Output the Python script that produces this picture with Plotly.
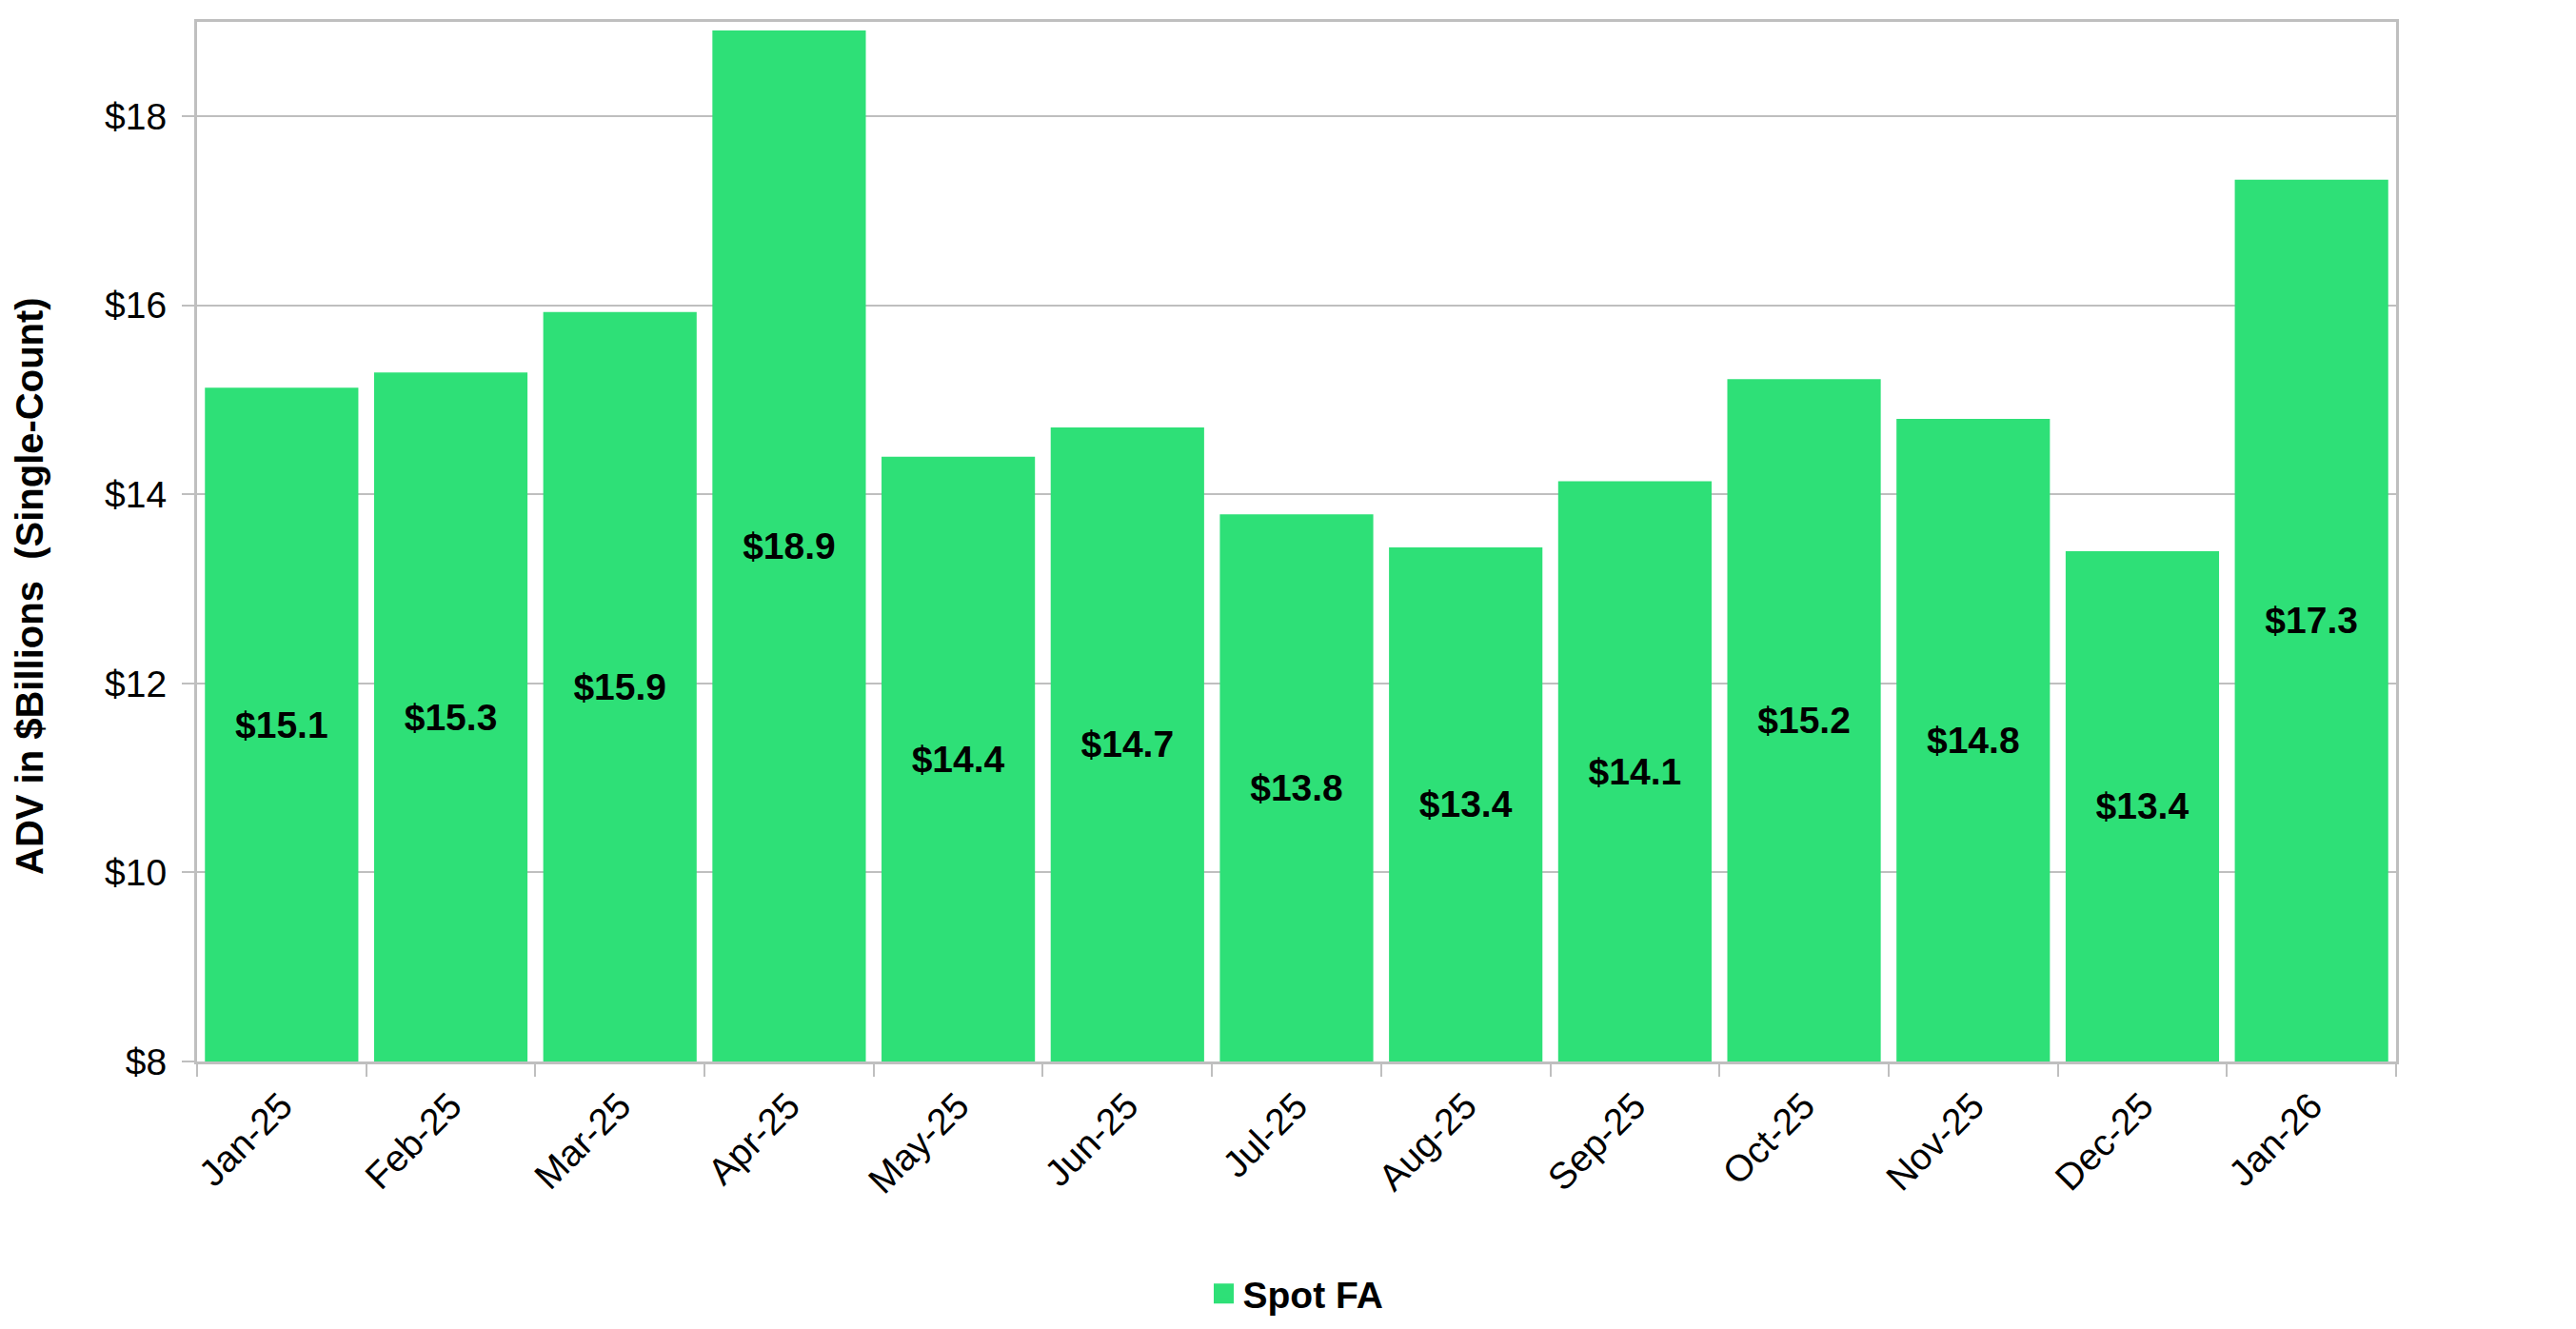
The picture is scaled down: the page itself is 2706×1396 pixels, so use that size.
import plotly.graph_objects as go

months = ["Jan-25", "Feb-25", "Mar-25", "Apr-25", "May-25", "Jun-25", "Jul-25",
          "Aug-25", "Sep-25", "Oct-25", "Nov-25", "Dec-25", "Jan-26"]
spot_fa = [15.13, 15.29, 15.93, 18.91, 14.40, 14.71, 13.79,
           13.44, 14.14, 15.22, 14.80, 13.40, 17.33]
series_name = "Spot FA"
y_title = "ADV in $Billions  (Single-Count)"
axis_min = 8

W, H = 2706, 1396
OFF = 8  # default page body margin
L, R, T, B = 207 - OFF, 189 + OFF, 23 - OFF, 281 + OFF
GREEN = "#2EE077"
GRID = "#BFBFBF"
FONT = "Arial, Liberation Sans, sans-serif"

fig = go.Figure()
fig.add_trace(go.Bar(
    x=months, y=[v - axis_min for v in spot_fa], base=axis_min,
    customdata=spot_fa, name=series_name, showlegend=False,
    marker=dict(color=GREEN, line=dict(width=0)),
    texttemplate="$%{customdata:.1f}", textposition="inside", insidetextanchor="middle",
    textangle=0, constraintext="none",
    textfont=dict(family=FONT, size=39, color="black", weight="bold"),
    hovertemplate="%{x}: $%{customdata:.1f}<extra></extra>",
))
# legend entry
fig.add_trace(go.Scatter(
    x=[None], y=[None], mode="markers", name=series_name,
    marker=dict(symbol="square", size=16, color=GREEN, line=dict(color=GREEN, width=5)),
))

plot_h = H - T - B
plot_w = W - L - R
fig.update_layout(
    width=W, height=H,
    margin=dict(l=L, r=R, t=T, b=B, autoexpand=False),
    paper_bgcolor="white", plot_bgcolor="white",
    bargap=0.093,
    font=dict(family=FONT, size=39, color="black"),
    showlegend=True,
    legend=dict(orientation="h", x=0.5, xanchor="center",
                y=-((1359 - OFF) - (H - B)) / plot_h,
                yanchor="middle", font=dict(size=39, weight="bold", color="black"),
                itemwidth=30, tracegroupgap=0),
    xaxis=dict(
        type="category", tickangle=-45, tickson="boundaries", automargin=False,
        ticks="outside", ticklen=13, tickwidth=2, tickcolor=GRID,
        ticklabelstandoff=5,
        showline=True, linecolor=GRID, linewidth=3, mirror=True,
        showgrid=False, tickfont=dict(size=39, color="black"),
    ),
    yaxis=dict(
        range=[axis_min, 19], dtick=2, tick0=8, tickprefix="$", automargin=False,
        ticks="outside", ticklen=13, tickwidth=2, tickcolor=GRID,
        ticklabelstandoff=8,
        showline=True, linecolor=GRID, linewidth=3, mirror=True,
        showgrid=True, gridcolor=GRID, gridwidth=2,
        tickfont=dict(size=39, color="black"), zeroline=False,
    ),
    annotations=[dict(
        text=y_title, textangle=-90, xref="paper", yref="paper",
        x=((31 - OFF) - L) / plot_w, y=(H - B - (616 - OFF)) / plot_h,
        xanchor="center", yanchor="middle", showarrow=False,
        font=dict(family=FONT, size=40, color="black", weight="bold"),
    )],
)

fig.write_html("out.html")
